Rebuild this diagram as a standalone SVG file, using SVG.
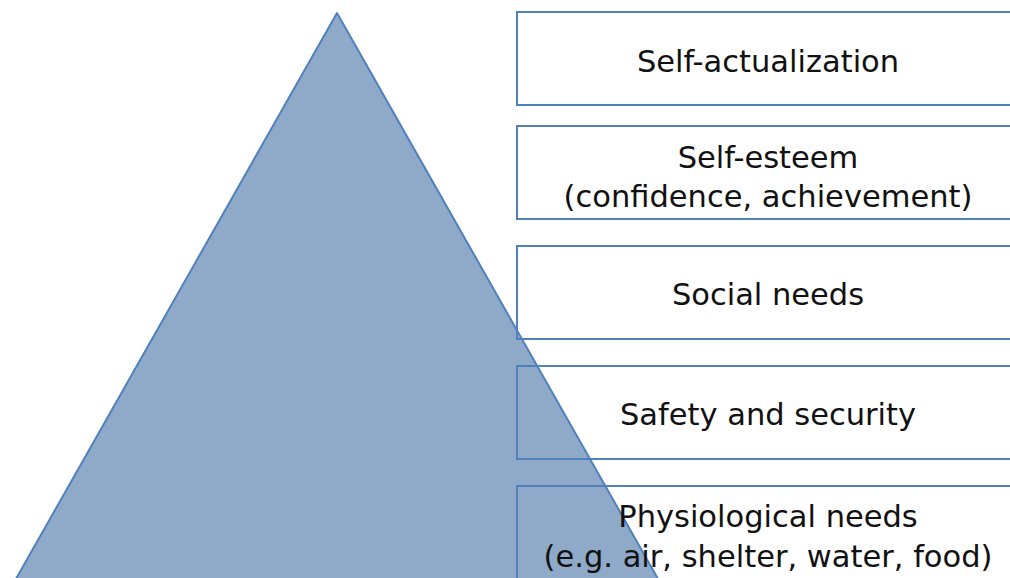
<svg xmlns="http://www.w3.org/2000/svg" width="1010" height="578" viewBox="0 0 1010 578">
<style>
.box{fill:none;stroke:#4F81BD;stroke-width:2}
.lbl{font-family:"DejaVu Sans","Liberation Sans",sans-serif;font-size:30.5px;fill:#111;text-anchor:middle}
</style>
<rect width="1010" height="578" fill="#fff"/>
<g id="pyramid">
<polygon points="337,13 670,600 4,600" fill="#8FA9C8" stroke="#4F81BD" stroke-width="2" stroke-linejoin="round"/>
</g>
<g id="self-actualization">
<rect class="box" x="517" y="12" width="520" height="93"/>
<text class="lbl" x="768" y="72">Self-actualization</text>
</g>
<g id="self-esteem">
<rect class="box" x="517" y="126" width="520" height="93"/>
<text class="lbl" x="768" y="168">Self-esteem</text>
<text class="lbl" x="768" y="207">(confidence, achievement)</text>
</g>
<g id="social-needs">
<rect class="box" x="517" y="246" width="520" height="93"/>
<text class="lbl" x="768" y="305">Social needs</text>
</g>
<g id="safety">
<rect class="box" x="517" y="366" width="520" height="93"/>
<text class="lbl" x="768" y="425">Safety and security</text>
</g>
<g id="physiological">
<rect class="box" x="517" y="486" width="520" height="120"/>
<text class="lbl" x="768" y="527">Physiological needs</text>
<text class="lbl" x="768" y="567">(e.g. air, shelter, water, food)</text>
</g>
<g id="connectors"></g>
</svg>
